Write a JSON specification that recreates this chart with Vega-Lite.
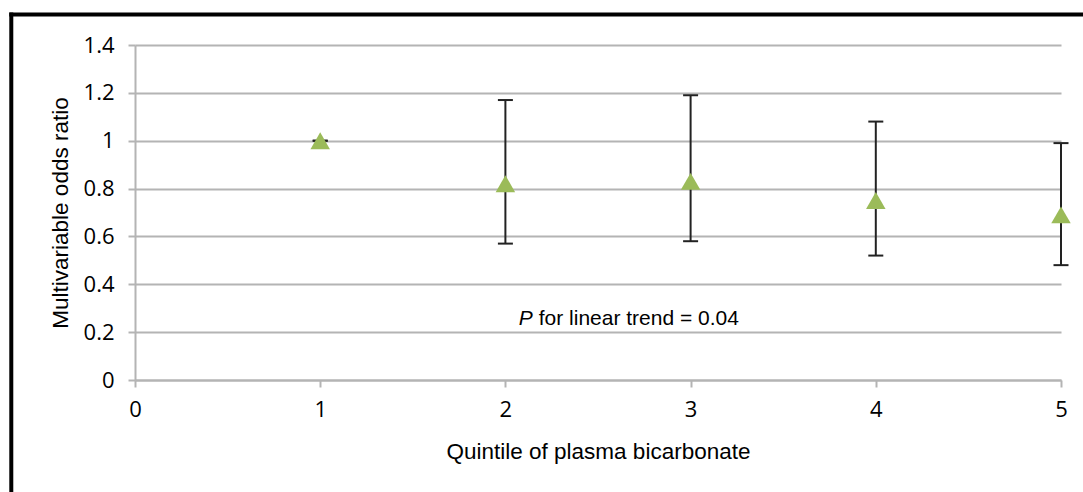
{
  "$schema": "https://vega.github.io/schema/vega-lite/v6.json",
  "width": 926,
  "height": 335,
  "autosize": {"type": "none"},
  "padding": {"left": 135, "top": 45, "right": 22, "bottom": 112},
  "background": "white",
  "config": {"view": {"stroke": null}},
  "data": {
    "values": [
      {"quintile": 1, "or": 1.0, "lower": 1.0, "upper": 1.0},
      {"quintile": 2, "or": 0.82, "lower": 0.57, "upper": 1.17},
      {"quintile": 3, "or": 0.83, "lower": 0.58, "upper": 1.19},
      {"quintile": 4, "or": 0.75, "lower": 0.52, "upper": 1.08},
      {"quintile": 5, "or": 0.69, "lower": 0.48, "upper": 0.99}
    ]
  },
  "layer": [
    {
      "mark": {"type": "rule", "color": "#222222", "strokeWidth": 2},
      "encoding": {
        "x": {
          "field": "quintile",
          "type": "quantitative",
          "scale": {"domain": [0, 5], "nice": false, "zero": false},
          "axis": {
            "values": [0, 1, 2, 3, 4, 5],
            "format": "d",
            "grid": false,
            "labelFlush": false,
            "tickSize": 7,
            "tickWidth": 2,
            "tickColor": "#b4b4b4",
            "domainColor": "#b4b4b4",
            "domainWidth": 2,
            "labelFont": "Open Sans",
            "labelFontSize": 22,
            "labelColor": "#000000",
            "labelPadding": 12,
            "title": "Quintile of plasma bicarbonate",
            "titleFont": "Liberation Sans",
            "titleFontSize": 22.5,
            "titleFontWeight": "normal",
            "titleColor": "#000000",
            "titlePadding": 20
          }
        },
        "y": {
          "field": "lower",
          "type": "quantitative",
          "scale": {"domain": [0, 1.4], "nice": false},
          "axis": {
            "values": [0, 0.2, 0.4, 0.6, 0.8, 1, 1.2, 1.4],
            "format": "~g",
            "grid": true,
            "labelFlush": false,
            "gridColor": "#b4b4b4",
            "gridWidth": 2,
            "tickSize": 7,
            "tickWidth": 2,
            "tickColor": "#b4b4b4",
            "domainColor": "#b4b4b4",
            "domainWidth": 2,
            "labelFont": "Open Sans",
            "labelFontSize": 22,
            "labelColor": "#000000",
            "labelPadding": 14,
            "title": "Multivariable odds ratio",
            "titleFont": "Liberation Sans",
            "titleFontSize": 22.5,
            "titleFontWeight": "normal",
            "titleColor": "#000000",
            "titlePadding": 11
          }
        },
        "y2": {"field": "upper"}
      }
    },
    {
      "mark": {"type": "tick", "orient": "horizontal", "size": 15, "thickness": 2, "color": "#222222", "opacity": 1},
      "encoding": {
        "x": {"field": "quintile", "type": "quantitative"},
        "y": {"field": "upper", "type": "quantitative"}
      }
    },
    {
      "mark": {"type": "tick", "orient": "horizontal", "size": 15, "thickness": 2, "color": "#222222", "opacity": 1},
      "encoding": {
        "x": {"field": "quintile", "type": "quantitative"},
        "y": {"field": "lower", "type": "quantitative"}
      }
    },
    {
      "mark": {"type": "point", "shape": "triangle-up", "size": 380, "filled": true, "color": "#9BBB59", "opacity": 1},
      "encoding": {
        "x": {"field": "quintile", "type": "quantitative"},
        "y": {"field": "or", "type": "quantitative"}
      }
    },
    {
      "data": {"values": [{}]},
      "mark": {"type": "text", "align": "right", "baseline": "alphabetic", "font": "Liberation Sans", "fontSize": 21, "fontStyle": "italic", "color": "#000000", "dx": -6},
      "encoding": {
        "x": {"datum": 2.18, "type": "quantitative"},
        "y": {"datum": 0.23, "type": "quantitative"},
        "text": {"value": "P"}
      }
    },
    {
      "data": {"values": [{}]},
      "mark": {"type": "text", "align": "left", "baseline": "alphabetic", "font": "Liberation Sans", "fontSize": 21, "color": "#000000"},
      "encoding": {
        "x": {"datum": 2.18, "type": "quantitative"},
        "y": {"datum": 0.23, "type": "quantitative"},
        "text": {"value": "for linear trend = 0.04"}
      }
    },
    {
      "data": {"values": [{}]},
      "mark": {"type": "rule", "color": "#000000", "strokeWidth": 4, "strokeCap": "square"},
      "encoding": {
        "x": {"datum": -0.668, "type": "quantitative"},
        "x2": {"datum": 5.3},
        "y": {"datum": 1.5275, "type": "quantitative"}
      }
    },
    {
      "data": {"values": [{}]},
      "mark": {"type": "rule", "color": "#000000", "strokeWidth": 4, "strokeCap": "square"},
      "encoding": {
        "x": {"datum": -0.668, "type": "quantitative"},
        "y": {"datum": 1.5275, "type": "quantitative"},
        "y2": {"datum": -0.6}
      }
    }
  ]
}
